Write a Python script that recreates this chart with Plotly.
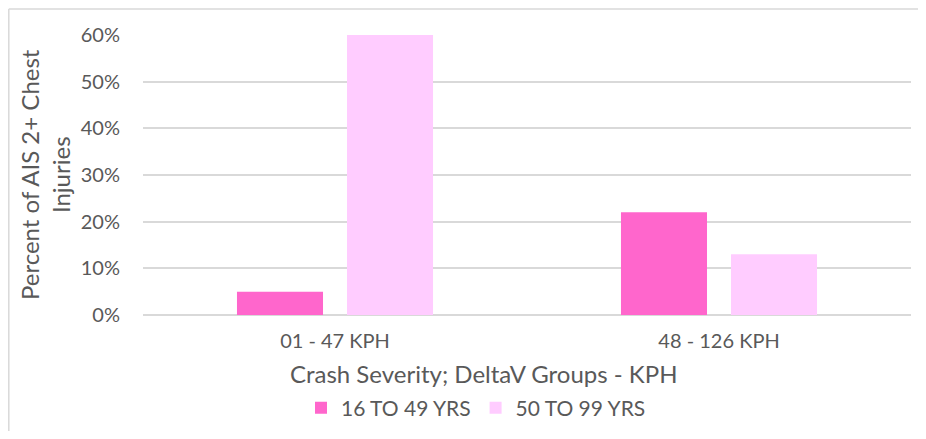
import plotly.graph_objects as go

categories = ["01 - 47 KPH", "48 - 126 KPH"]
series_names = ["16 TO 49 YRS", "50 TO 99 YRS"]
young_vals = [0.05, 0.22]
old_vals = [0.60, 0.13]
colors = ["#FF66CC", "#FFCCFF"]
y_ticks = [0, 0.1, 0.2, 0.3, 0.4, 0.5, 0.6]

FONT = "Lato"
GRAY = "#595959"

fig = go.Figure()
for name, vals, col in zip(series_names, [young_vals, old_vals], colors):
    fig.add_trace(go.Bar(x=categories, y=vals, name=name,
                         marker=dict(color=col, line=dict(width=0))))

# page has an 8px body margin; keep figure inside the 926x439 viewport
OFF = 8
W, H = 926 - 2 * OFF, 439 - 2 * OFF
L = 143 - OFF
R = (W + OFF) - 911
T = 35 - OFF
B = (H + OFF) - 315
pw, ph = W - L - R, H - T - B

def px(x):
    return (x - OFF - L) / pw

def py(y):
    return (H - B - (y - OFF)) / ph

fig.update_layout(
    width=W, height=H,
    margin=dict(l=L, r=R, t=T, b=B, autoexpand=False),
    paper_bgcolor="white", plot_bgcolor="white",
    barmode="group", bargap=0.427, bargroupgap=0.218,
    font=dict(family=FONT, color=GRAY, size=20),
    showlegend=True,
    legend=dict(orientation="h", x=px(476), xanchor="center", y=py(408), yanchor="middle",
                font=dict(size=21, color=GRAY), itemclick=False, traceorder="normal"),
    xaxis=dict(showgrid=False, showline=False, ticks="", tickfont=dict(size=20, color=GRAY),
               ticklabelstandoff=12, automargin=False),
    yaxis=dict(range=[0, 0.6], tickvals=y_ticks, tickformat=".0%", showgrid=True,
               gridcolor="#D9D9D9", gridwidth=1.5, zeroline=True, zerolinecolor="#D9D9D9",
               zerolinewidth=1.5, showline=False, ticks="", ticklabelstandoff=22,
               tickfont=dict(size=20, color=GRAY), automargin=False),
    annotations=[
        dict(text="Percent of AIS 2+ Chest<br>Injuries", xref="paper", yref="paper",
             x=px(45), y=py(175), xanchor="center", yanchor="middle", textangle=-90,
             showarrow=False, font=dict(size=24, color=GRAY)),
        dict(text="Crash Severity; DeltaV Groups - KPH", xref="paper", yref="paper",
             x=px(484), y=py(373), xanchor="center", yanchor="middle",
             showarrow=False, font=dict(size=24, color=GRAY)),
    ],
    shapes=[
        dict(type="line", xref="paper", yref="paper", x0=px(8.8), x1=px(960), y0=py(9), y1=py(9),
             line=dict(color="#D9D9D9", width=1.5), layer="below"),
        dict(type="line", xref="paper", yref="paper", x0=px(8.8), x1=px(8.8), y0=py(9), y1=py(480),
             line=dict(color="#D9D9D9", width=1.5), layer="below"),
    ],
)

fig.write_html("out.html")
